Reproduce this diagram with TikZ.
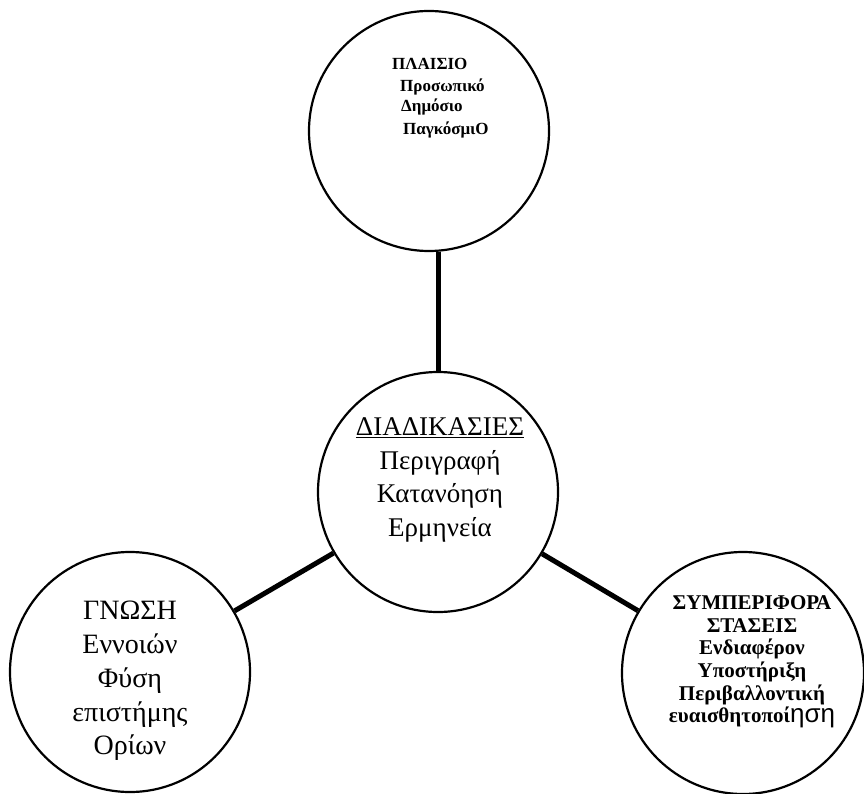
\documentclass[tikz,border=0pt]{standalone}
\usepackage{fontspec}
\setmainfont{Liberation Serif}
\setsansfont{Liberation Sans}
\begin{document}
\begin{tikzpicture}[x=1pt,y=-1pt,
    kyklos/.style={draw, circle, line width=2.2pt, minimum size=240pt, inner sep=0pt},
    syndesi/.style={line width=5pt},
    mikro/.style={font=\bfseries\fontsize{17}{20}\selectfont, anchor=base west, inner sep=0pt},
    megalo/.style={font=\fontsize{27}{33.5}\selectfont, align=center},
    mesaio/.style={font=\bfseries\fontsize{21}{22.6}\selectfont, align=center}]
  \useasboundingbox (0,0) rectangle (864,794);
  % the four circles
  \node[kyklos] (diadikasies) at (438,492) {};
  \node[kyklos] (plaisio) at (429,131) {};
  \node[kyklos] (gnosi) at (130,672) {};
  \node[kyklos, minimum size=242pt] (symperifora) at (743,673) {};
  % thick links from the middle
  \draw[syndesi] (diadikasies.north) -- (diadikasies.north |- plaisio.south);
  \draw[syndesi] (diadikasies) -- (gnosi);
  \draw[syndesi] (diadikasies) -- (symperifora);
  % texts
  \node[mikro] (p1) at (392,70) {ΠΛΑΙΣΙΟ};
  \node[mikro] (p2) at (400,92) {Προσωπικό};
  \node[mikro] (p3) at (401,112) {Δημόσιο};
  \node[mikro] (p4) at (403,135) {ΠαγκόσμιΟ};
  \node[megalo] (tdiad) at (440,480) {\underline{ΔΙΑΔΙΚΑΣΙΕΣ}\\Περιγραφή\\Κατανόηση\\Ερμηνεία};
  \node[megalo, font=\fontsize{28}{33.8}\selectfont] (tgnosi) at (130,681) {ΓΝΩΣΗ\\Εννοιών\\Φύση\\επιστήμης\\Ορίων};
  \node[mesaio] (tsymp) at (752,662) {ΣΥΜΠΕΡΙΦΟΡΑ\\ΣΤΑΣΕΙΣ\\Ενδιαφέρον\\Υποστήριξη\\Περιβαλλοντική\\ευαισθητοποί{\sffamily\mdseries\fontsize{26}{22.6}\selectfont ηση}};
\end{tikzpicture}
\end{document}
